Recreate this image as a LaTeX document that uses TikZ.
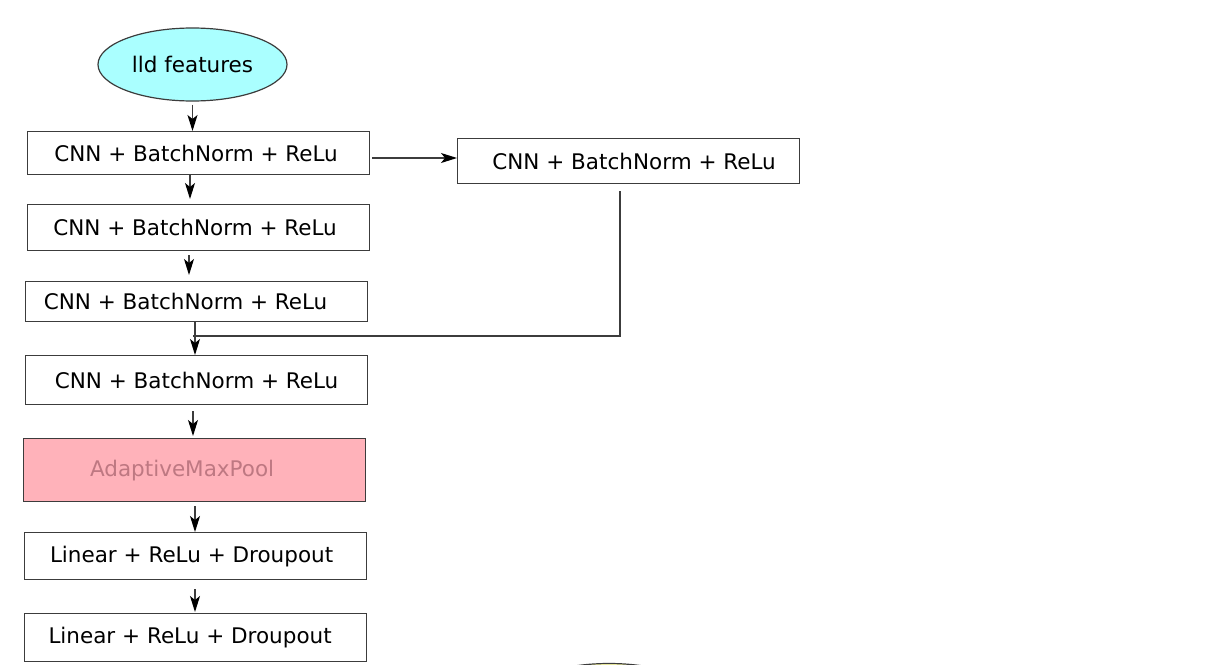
\documentclass[tikz,border=0pt]{standalone}
\usepackage{fontspec}
\setmainfont{DejaVu Sans}
\usetikzlibrary{shapes.geometric,arrows.meta,calc}
\definecolor{cyanfill}{RGB}{170,255,255}
\definecolor{poolfill}{RGB}{255,178,186}
\definecolor{pooltext}{RGB}{190,120,130}
\definecolor{yellowfill}{RGB}{255,255,170}
\definecolor{linegray}{RGB}{60,60,60}
\begin{document}
\begin{tikzpicture}[x=1pt,y=-1pt,
  font=\fontsize{21.5}{26}\selectfont,
  box/.style={draw=linegray, line width=1.2pt, rectangle, minimum width=342pt, inner sep=0pt, anchor=north west},
  oval/.style={draw=linegray, line width=1.2pt, ellipse, minimum width=189pt, minimum height=73pt, inner sep=0pt},
  conn/.style={draw=linegray, line width=1.2pt},
  arr/.style={conn, -{Stealth[length=16pt,width=10pt,inset=4pt,color=black]}}]
\useasboundingbox (0,0) rectangle (1212,664);
\clip (0,0) rectangle (1212,664);

\node[oval, fill=cyanfill] (ell) at (192.5,64.5) {lld features};
\node[box, minimum height=43pt] (A) at (27,131) {CNN + BatchNorm + ReLu\hspace*{5pt}};
\node[box, minimum height=45pt] (R) at (457,138) {\hspace*{11pt}CNN + BatchNorm + ReLu};
\node[box, minimum height=46pt] (B) at (27,204) {CNN + BatchNorm + ReLu\hspace*{7pt}};
\node[box, minimum height=40pt] (C) at (25,281) {CNN + BatchNorm + ReLu\hspace*{22pt}};
\node[box, minimum height=49pt] (D) at (25,355) {CNN + BatchNorm + ReLu};
\node[box, minimum height=63pt, fill=poolfill, text=pooltext] (P) at (23,438) {AdaptiveMaxPool\hspace*{25pt}};
\node[box, minimum height=47pt] (L1) at (24,532) {Linear + ReLu + Droupout\hspace*{8pt}};
\node[box, minimum height=48pt] (L2) at (24,613) {Linear + ReLu + Droupout\hspace*{11pt}};
\node[oval, fill=yellowfill] (out) at (609,700) {};

\draw[arr] ($(ell.south)+(0,3)$) -- (ell.south |- A.north);
\draw[arr] ($(A.north east)+(2,27)$) -- ($(R.north west)+(0,20)$);
\draw[arr] ($(A.south west)+(163,0)$) -- ($(B.north west)+(163,-5)$);
\draw[arr] ($(B.south west)+(162,4)$) -- ($(C.north west)+(164,-6)$);
\draw[arr] ($(C.south west)+(170,0)$) -- ($(D.north west)+(170,0)$);
\draw[conn] ($(R.south west)+(163,7)$) |- ($(D.north west)+(168,-19)$);
\draw[arr] ($(D.south west)+(168,6)$) -- ($(P.north west)+(170,-2)$);
\draw[arr] ($(P.south west)+(172,4)$) -- ($(L1.north west)+(171,0)$);
\draw[arr] ($(L1.south west)+(171,9)$) -- ($(L2.north west)+(171,-1)$);
\end{tikzpicture}
\end{document}
